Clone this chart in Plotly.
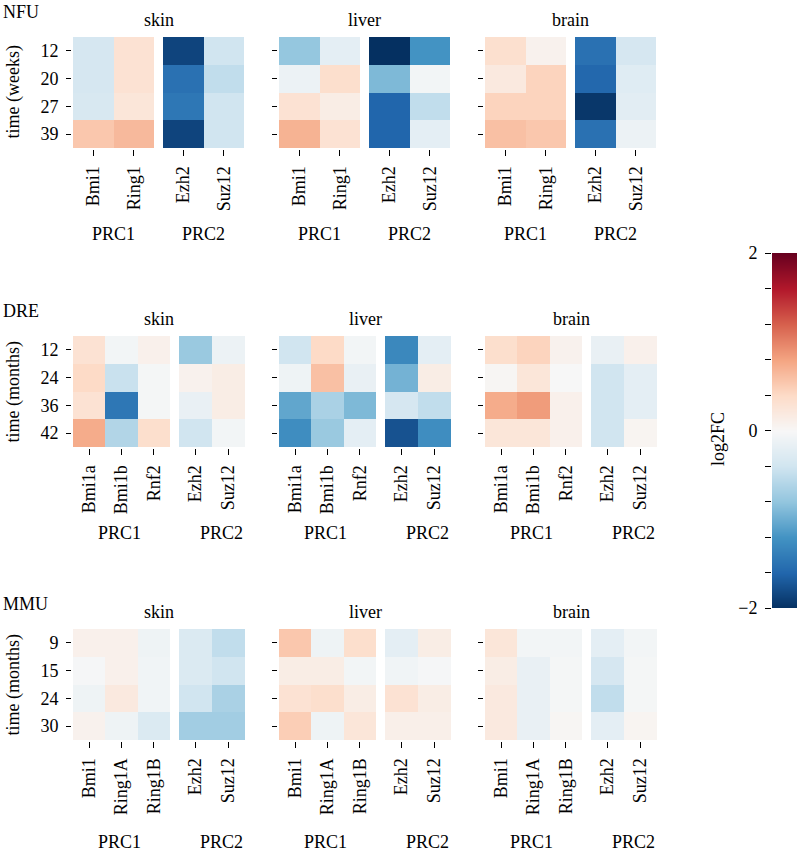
import plotly.graph_objects as go

W, H = 797, 851
FONT = "Liberation Serif"

species = ["NFU", "DRE", "MMU"]
tissues = ["skin", "liver", "brain"]
time_titles = ["time (weeks)", "time (months)", "time (months)"]

nfu_times = ["12", "20", "27", "39"]
dre_times = ["12", "24", "36", "42"]
mmu_times = ["9", "15", "24", "30"]

nfu_prc1 = ["Bmi1", "Ring1"]
nfu_prc2 = ["Ezh2", "Suz12"]
dre_prc1 = ["Bmi1a", "Bmi1b", "Rnf2"]
dre_prc2 = ["Ezh2", "Suz12"]
mmu_prc1 = ["Bmi1", "Ring1A", "Ring1B"]
mmu_prc2 = ["Ezh2", "Suz12"]

# log2FC values: rows = time points, columns = genes
nfu_skin_prc1 = [[-0.35, 0.30], [-0.35, 0.30], [-0.33, 0.25], [0.55, 0.65]]
nfu_skin_prc2 = [[-1.85, -0.40], [-1.50, -0.50], [-1.45, -0.40], [-1.85, -0.40]]
nfu_liver_prc1 = [[-0.78, -0.20], [-0.12, 0.35], [0.30, 0.15], [0.70, 0.30]]
nfu_liver_prc2 = [[-2.00, -1.20], [-0.90, -0.05], [-1.60, -0.50], [-1.60, -0.20]]
nfu_brain_prc1 = [[0.33, 0.08], [0.20, 0.45], [0.45, 0.45], [0.60, 0.55]]
nfu_brain_prc2 = [[-1.50, -0.35], [-1.58, -0.25], [-1.95, -0.22], [-1.50, -0.12]]

dre_skin_prc1 = [[0.30, -0.05, 0.10], [0.40, -0.45, -0.03], [0.30, -1.45, -0.03], [0.75, -0.60, 0.35]]
dre_skin_prc2 = [[-0.75, -0.12], [0.08, 0.15], [-0.15, 0.15], [-0.40, -0.05]]
dre_liver_prc1 = [[-0.40, 0.40, -0.05], [-0.10, 0.60, -0.15], [-1.05, -0.65, -0.90], [-1.25, -0.75, -0.20]]
dre_liver_prc2 = [[-1.30, -0.20], [-0.95, 0.15], [-0.35, -0.50], [-1.75, -1.25]]
dre_brain_prc1 = [[0.35, 0.45, 0.08], [0.03, 0.25, 0.00], [0.75, 0.85, 0.10], [0.25, 0.25, 0.10]]
dre_brain_prc2 = [[-0.15, 0.10], [-0.40, -0.20], [-0.40, -0.20], [-0.40, 0.05]]

mmu_skin_prc1 = [[0.10, 0.10, -0.10], [-0.02, 0.10, -0.07], [-0.10, 0.20, -0.07], [0.08, -0.10, -0.30]]
mmu_skin_prc2 = [[-0.30, -0.50], [-0.30, -0.40], [-0.40, -0.65], [-0.70, -0.70]]
mmu_liver_prc1 = [[0.55, -0.10, 0.35], [0.15, 0.15, -0.05], [0.30, 0.35, 0.15], [0.50, -0.10, 0.25]]
mmu_liver_prc2 = [[-0.20, 0.15], [-0.07, -0.02], [0.30, 0.15], [0.12, 0.12]]
mmu_brain_prc1 = [[0.25, -0.05, -0.05], [0.15, -0.15, -0.03], [0.20, -0.15, -0.03], [0.20, -0.15, 0.03]]
mmu_brain_prc2 = [[-0.20, -0.05], [-0.35, -0.03], [-0.50, -0.03], [-0.20, 0.05]]

# colour bar ticks (labels only at -2, 0, 2)
cbar_tickvals = [-2.0, -1.6, -1.2, -0.8, -0.4, 0.0, 0.4, 0.8, 1.2, 1.6, 2.0]
cbar_ticktext = ["\u22122", "", "", "", "", "0", "", "", "", "", "2"]

rdbu_r = [
    [0.0, "rgb(5,48,97)"], [0.1, "rgb(33,102,172)"], [0.2, "rgb(67,147,195)"],
    [0.3, "rgb(146,197,222)"], [0.4, "rgb(209,229,240)"], [0.5, "rgb(247,247,247)"],
    [0.6, "rgb(253,219,199)"], [0.7, "rgb(244,165,130)"], [0.8, "rgb(214,96,77)"],
    [0.9, "rgb(178,24,43)"], [1.0, "rgb(103,0,31)"],
]

data = {
    "NFU": (nfu_times, nfu_prc1, nfu_prc2,
            [(nfu_skin_prc1, nfu_skin_prc2), (nfu_liver_prc1, nfu_liver_prc2), (nfu_brain_prc1, nfu_brain_prc2)]),
    "DRE": (dre_times, dre_prc1, dre_prc2,
            [(dre_skin_prc1, dre_skin_prc2), (dre_liver_prc1, dre_liver_prc2), (dre_brain_prc1, dre_brain_prc2)]),
    "MMU": (mmu_times, mmu_prc1, mmu_prc2,
            [(mmu_skin_prc1, mmu_skin_prc2), (mmu_liver_prc1, mmu_liver_prc2), (mmu_brain_prc1, mmu_brain_prc2)]),
}

# layout geometry (pixels)
row_tops = [37, 336, 629]
row_h = 111
group_starts = [73, 279, 485]
prc_offsets = [86, 86, 102]


def px_x(p):
    return p / W


def px_y(p):
    return 1 - p / H


fig = go.Figure()
layout = {}
annotations = []
n = 0
for i, sp in enumerate(species):
    times, g1, g2, mats = data[sp]
    top = row_tops[i]
    bottom = top + row_h
    if len(g1) == 2:
        w1, gap, w2 = 81, 9, 81
        lab1, lab2 = 40, 130
    else:
        w1, gap, w2 = 97, 9, 66
        lab1, lab2 = 46, 148
    for j, tis in enumerate(tissues):
        g0 = group_starts[j]
        parts = [(g0, g0 + w1, g1, mats[j][0]), (g0 + w1 + gap, g0 + w1 + gap + w2, g2, mats[j][1])]
        for k, (a, b, genes, z) in enumerate(parts):
            n += 1
            sfx = "" if n == 1 else str(n)
            fig.add_trace(go.Heatmap(
                x=genes, y=times, z=z, coloraxis="coloraxis",
                xaxis="x" + sfx, yaxis="y" + sfx, xgap=0, ygap=0,
            ))
            layout["xaxis" + sfx] = dict(
                domain=[px_x(a), px_x(b)], anchor="free", position=px_y(bottom + 1),
                type="category", tickangle=-90, ticks="outside", ticklen=6, tickwidth=1.3,
                tickcolor="black", showgrid=False, zeroline=False, showline=False,
                automargin=False, ticklabelstandoff=3,
                tickfont=dict(size=18, family=FONT, color="black"), fixedrange=True,
            )
            layout["yaxis" + sfx] = dict(
                domain=[px_y(bottom), px_y(top)], anchor="free", position=px_x(a - 2),
                type="category", autorange="reversed",
                ticks="outside" if k == 0 else "", ticklen=5, tickwidth=1.3, tickcolor="black",
                showticklabels=(j == 0 and k == 0), showgrid=False, zeroline=False, showline=False,
                automargin=False, ticklabelstandoff=4,
                tickfont=dict(size=18, family=FONT, color="black"), fixedrange=True,
            )
        annotations.append(dict(text=tis, x=px_x(g0 + (w1 + gap + w2) / 2), y=px_y(top - 17),
                                xref="paper", yref="paper", showarrow=False,
                                xanchor="center", yanchor="middle", font=dict(size=18)))
        prc_y = bottom + prc_offsets[i]
        annotations.append(dict(text="PRC1", x=px_x(g0 + lab1), y=px_y(prc_y),
                                xref="paper", yref="paper", showarrow=False,
                                xanchor="center", yanchor="middle", font=dict(size=18)))
        annotations.append(dict(text="PRC2", x=px_x(g0 + lab2), y=px_y(prc_y),
                                xref="paper", yref="paper", showarrow=False,
                                xanchor="center", yanchor="middle", font=dict(size=18)))
    annotations.append(dict(text=sp, x=px_x(1), y=px_y(top - 25), xref="paper", yref="paper",
                            showarrow=False, xanchor="left", yanchor="middle", font=dict(size=18)))
    annotations.append(dict(text=time_titles[i], x=px_x(13), y=px_y(top + row_h / 2),
                            xref="paper", yref="paper", showarrow=False, textangle=-90,
                            xanchor="center", yanchor="middle", font=dict(size=18)))

annotations.append(dict(text="log2FC", x=px_x(718), y=px_y(439), xref="paper", yref="paper",
                        showarrow=False, textangle=-90, xanchor="center", yanchor="middle",
                        font=dict(size=18)))

# colour bar drawn as a smooth strip on its own axis (ticks and labels on the left)
cb_top, cb_bottom, cb_left = 253, 608, 772
fig.add_trace(go.Heatmap(
    x=[0, 1], y=cbar_tickvals, z=[[v, v] for v in cbar_tickvals],
    coloraxis="coloraxis", zsmooth="best", xaxis="x19", yaxis="y19", hoverinfo="skip",
))
layout["xaxis19"] = dict(domain=[px_x(cb_left), 1.0], anchor="y19", visible=False,
                         range=[0, 1], fixedrange=True, automargin=False)
layout["yaxis19"] = dict(
    domain=[px_y(cb_bottom), px_y(cb_top)], anchor="free", position=px_x(cb_left - 1),
    side="left", range=[-2, 2], tickvals=cbar_tickvals, ticktext=cbar_ticktext,
    ticks="outside", ticklen=6, tickwidth=1.3, tickcolor="black",
    showgrid=False, zeroline=False, showline=False, automargin=False, ticklabelstandoff=4,
    tickfont=dict(size=18, family=FONT, color="black"), fixedrange=True,
)

fig.update_layout(
    width=W, height=H, autosize=False,
    margin=dict(l=0, r=0, t=0, b=0, pad=0, autoexpand=False),
    paper_bgcolor="white", plot_bgcolor="white",
    font=dict(family=FONT, size=18, color="black"),
    showlegend=False,
    annotations=annotations,
    coloraxis=dict(colorscale=rdbu_r, cmin=-2, cmax=2, showscale=False),
    **layout,
)

fig.write_html("out.html", config={"displayModeBar": False, "responsive": False},
               post_script="document.body.style.margin='0px';")
